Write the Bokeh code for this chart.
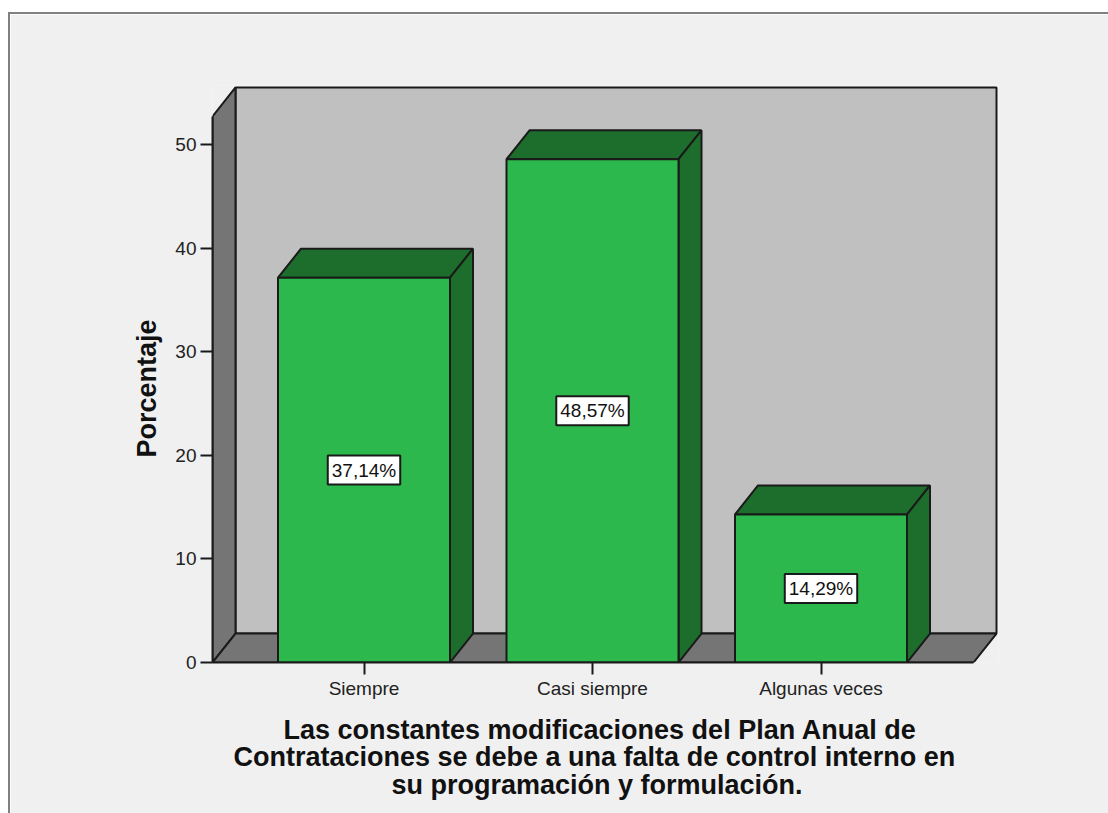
from bokeh.plotting import figure
from bokeh.models import Label, FixedTicker, Title
from bokeh.embed import file_html
from bokeh.resources import INLINE

categories = ["Siempre", "Casi siempre", "Algunas veces"]
values = [37.14, 48.57, 14.29]
labels = ["37,14%", "48,57%", "14,29%"]
y_ticks = [0, 10, 20, 30, 40, 50]
title_lines = ["Las constantes modificaciones del Plan Anual de",
               "Contrataciones se debe a una falta de control interno en",
               "su programación y formulación."]
y_title = "Porcentaje"

FONT = "Liberation Sans"
BG, BACK, WALL = "#f0f0f0", "#c0c0c0", "#757575"
FRONT, DARK, INK = "#2db84d", "#1d6d2c", "#1a1a1a"

PXX, PXY = 228.5, 10.38      # pixels per unit
X0 = 363.5                   # page position of x=0
BAR = 172 / PXX
DX, DY = 23 / PXX, 29 / PXY  # oblique depth
XL, XR = (212 - X0) / PXX, (973 - X0) / PXX
YT = (662 - 115) / PXY
ML, MT = 8, 12               # white strip left and above the chart panel
BW = 2                       # panel border width
PAD = 2                      # spare frame pixels so outer wall lines are not clipped

p = figure(width=1108 - ML, height=813 - MT, output_backend="svg", toolbar_location=None,
           x_range=(XL, XR + DX + PAD / PXX), y_range=(0, YT + DY + PAD / PXY),
           frame_width=784 + PAD, frame_height=575 + PAD,
           min_border_left=212 - ML - BW, min_border_right=1108 - 996 - PAD,
           min_border_top=87 - MT - PAD - BW, min_border_bottom=813 - 662,
           border_fill_color=BG, background_fill_color=BG,
           outline_line_color=None)
p.margin = (MT, 0, 0, ML)
p.styles = {"border-left": "2px solid #808080", "border-top": "2px solid #808080", "box-sizing": "border-box"}
p.grid.visible = False

# walls
p.patch([XL + DX, XR + DX, XR + DX, XL + DX], [DY, DY, YT + DY, YT + DY],
        fill_color=BACK, line_color=INK, line_width=2)
p.patch([XL, XL + DX, XL + DX, XL], [0, DY, YT + DY, YT],
        fill_color=WALL, line_color=INK, line_width=2)
p.patch([XL, XR, XR + DX, XL + DX], [0, 0, DY, DY],
        fill_color=WALL, line_color=INK, line_width=2)

# bars
for i, v in enumerate(values):
    l, r = i - BAR / 2, i + BAR / 2
    p.patch([l, r, r + DX, l + DX], [v, v, v + DY, v + DY],
            fill_color=DARK, line_color=INK, line_width=2)
    p.patch([r, r + DX, r + DX, r], [0, DY, v + DY, v],
            fill_color=DARK, line_color=INK, line_width=2)
    p.patch([l, r, r, l], [0, 0, v, v],
            fill_color=FRONT, line_color=INK, line_width=2)
    p.add_layout(Label(x=i, y=v / 2, text=labels[i], text_align="center", text_baseline="middle",
                       text_font=FONT, text_font_size="19px", text_color="#111111",
                       background_fill_color="white", border_line_color=INK, border_line_width=2,
                       padding=4))

ax = p.yaxis[0]
ax.bounds = (0, YT)
ax.ticker = FixedTicker(ticks=y_ticks)
ax.minor_tick_line_color = None
ax.major_tick_out = 12
ax.major_tick_in = 0
ax.major_tick_line_color = INK
ax.major_tick_line_width = 2
ax.axis_line_color = INK
ax.axis_line_width = 2
ax.major_label_standoff = 4
ax.major_label_text_font = FONT
ax.major_label_text_font_size = "19px"
ax.major_label_text_color = "#222222"

bx = p.xaxis[0]
bx.bounds = (XL, XR)
bx.ticker = FixedTicker(ticks=[0, 1, 2])
bx.major_label_overrides = {i: c for i, c in enumerate(categories)}
bx.minor_tick_line_color = None
bx.major_tick_out = 12
bx.major_tick_in = 0
bx.major_tick_line_color = INK
bx.major_tick_line_width = 2
bx.axis_line_color = INK
bx.axis_line_width = 2
bx.major_label_standoff = 3
bx.major_label_text_font = FONT
bx.major_label_text_font_size = "19px"
bx.major_label_text_color = "#222222"

p.add_layout(Title(text=y_title, align="left", offset=205, standoff=22, text_font=FONT,
                   text_font_style="bold", text_font_size="27px", text_color="#111111"), "left")
for line, off, gap in zip(title_lines, [71, 21, 179], [22, -31, 22]):
    p.add_layout(Title(text=line, align="left", offset=off, standoff=gap, text_font=FONT,
                       text_font_style="bold", text_font_size="27px", text_color="#111111"), "below")

open("out.html", "w").write(file_html(p, INLINE))
